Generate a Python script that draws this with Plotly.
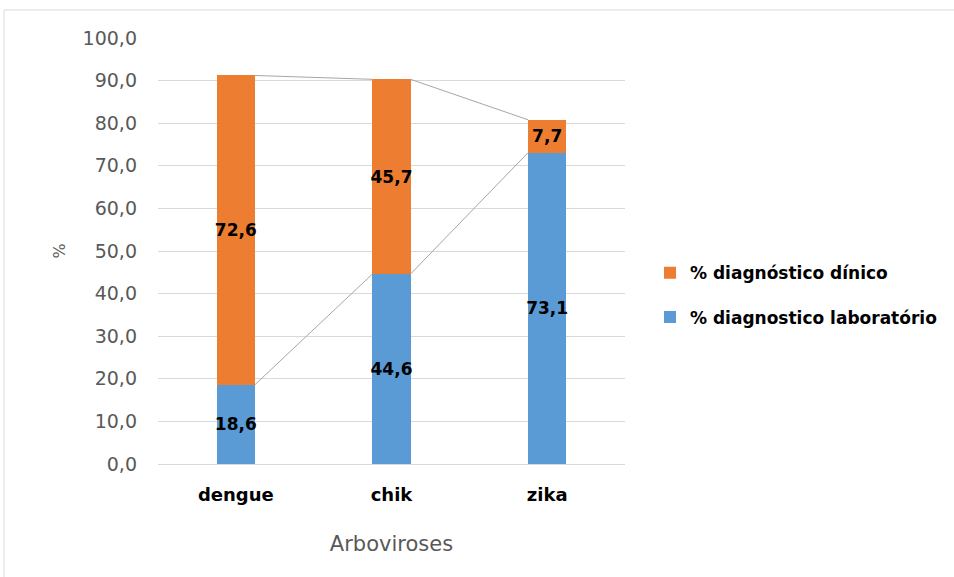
import plotly.graph_objects as go

categories = ["dengue", "chik", "zika"]
lab = [18.6, 44.6, 73.1]
clin = [72.6, 45.7, 7.7]
lab_name = "% diagnostico laboratório"
clin_name = "% diagnóstico dínico"
yticks = [0, 10, 20, 30, 40, 50, 60, 70, 80, 90, 100]

BLUE = "#5b9bd5"
ORANGE = "#ed7d31"
W = 0.245
FONT = "DejaVu Sans"

xs = list(range(len(categories)))
tops_lab = lab
tops_clin = [a + b for a, b in zip(lab, clin)]

def fmt(v):
    return f"{v:.1f}".replace(".", ",")

fig = go.Figure()
fig.add_trace(go.Bar(
    x=xs, y=lab, width=W, name=lab_name, marker=dict(color=BLUE, line=dict(width=0)),
    text=[fmt(v) for v in lab], textposition="inside",
    insidetextanchor="middle", textangle=0, constraintext="none",
    textfont=dict(family=FONT, size=17, color="black", weight="bold"),
    legendgroup="lab", legendrank=2,
))
fig.add_trace(go.Bar(
    x=xs, y=clin, width=W, name=clin_name, marker=dict(color=ORANGE, line=dict(width=0)),
    text=[fmt(v) for v in clin], textposition="inside",
    insidetextanchor="middle", textangle=0, constraintext="none",
    textfont=dict(family=FONT, size=17, color="black", weight="bold"),
    legendgroup="clin", legendrank=1,
))

# series lines (Excel-style) connecting segment tops
for tops in (tops_lab, tops_clin):
    lx, ly = [], []
    for i in range(len(xs) - 1):
        lx += [xs[i] + W / 2, xs[i + 1] - W / 2, None]
        ly += [tops[i], tops[i + 1], None]
    fig.add_trace(go.Scatter(x=lx, y=ly, mode="lines", line=dict(color="#a6a6a6", width=1),
                             showlegend=False, hoverinfo="skip"))

fig.update_layout(
    barmode="stack",
    width=954, height=577,
    margin=dict(l=158, r=329, t=38, b=113),
    plot_bgcolor="white", paper_bgcolor="white",
    font=dict(family=FONT, color="#595959"),
    legend=dict(x=(650 - 158) / 467, y=0.396, xanchor="left", yanchor="middle",
                traceorder="grouped", tracegroupgap=19,
                font=dict(family=FONT, size=17, color="black", weight="bold")),
    xaxis=dict(tickmode="array", tickvals=xs, ticktext=categories, range=[-0.5, 2.5],
               tickfont=dict(family=FONT, size=18, color="black", weight="bold"),
               showline=True, linecolor="#d9d9d9", linewidth=1, ticks="",
               ticklabelstandoff=14,
               title=dict(text="Arboviroses", font=dict(family=FONT, size=21, color="#595959"), standoff=32)),
    yaxis=dict(range=[0, 100], tickvals=yticks,
               ticktext=[fmt(v) for v in yticks],
               tickfont=dict(family=FONT, size=19, color="#595959"),
               gridcolor="#d9d9d9", gridwidth=1, zeroline=False, ticks="",
               ticklabelstandoff=20,
               title=dict(text="%", font=dict(family=FONT, size=16, color="#595959"), standoff=12)),
    shapes=[dict(type="rect", xref="paper", yref="paper",
                 x0=(4 - 158) / 467, x1=(1000 - 158) / 467,
                 y0=(464 - 620) / 426, y1=(464 - 10) / 426,
                 line=dict(color="#d9d9d9", width=1), fillcolor="rgba(0,0,0,0)", layer="below")],
)

fig.write_html("out.html")
